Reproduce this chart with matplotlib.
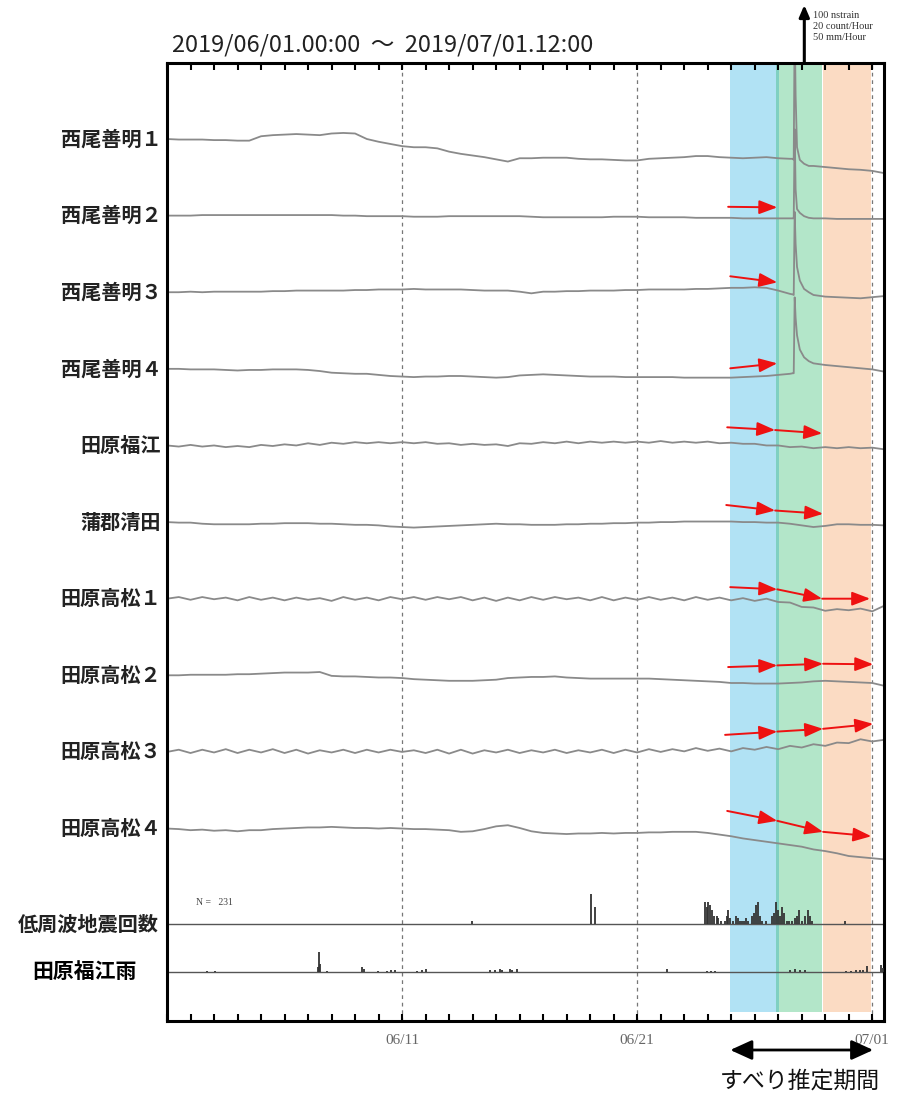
import numpy as np
import matplotlib
matplotlib.use("Agg")
import matplotlib.pyplot as plt
from matplotlib.patches import FancyArrowPatch
from matplotlib.ticker import MultipleLocator

plt.rcParams['font.family'] = ['Noto Sans CJK JP', 'DejaVu Sans']

# ---------------- data ----------------
TITLE = "2019/06/01.00:00  ～  2019/07/01.12:00"
STATIONS = ["西尾善明１", "西尾善明２", "西尾善明３", "西尾善明４", "田原福江",
            "蒲郡清田", "田原高松１", "田原高松２", "田原高松３", "田原高松４"]
LFE_LABEL = "低周波地震回数"
RAIN_LABEL = "田原福江雨"
TICK_DAYS = [10, 20, 30]
TICK_LABELS = ["06/11", "06/21", "07/01"]
SCALE_TEXT = "100 nstrain\n20 count/Hour\n50 mm/Hour"
N_TEXT = "N =   231"
SLIP_TEXT = "すべり推定期間"

# strain (nstrain, relative to start) every 0.5 day from 06/01 00:00
DAYS = np.arange(0, 30.51, 0.5)
T1 = [0, -1, -1, -1, -2, -2, -3, -3, 5, 7, 8, 9, 8, 7, 10, 11, 10, 0, -5, -9,
      -13, -15, -15, -17, -23, -27, -30, -33, -37, -41, -35, -35, -34, -34, -34, -36, -37, -37, -38, -39,
      -39, -36, -35, -34, -33, -31, -31, -33, -34, -35, -34, -33, -35, -36, -44, -49, -51, -53, -55, -56,
      -58, -62]
T2 = [0, 0, 0, 1, 1, 1, 1, 1, 1, 1, 1, 1, 1, 1, 1, 0, 0, -1, -1, -1, -1,
      -2, -2, -2, -1, -1, -1, -1, -1, -1, -1, -2, -3, -3, -3, -3, -3, -3, -2, -2, -2,
      -3, -3, -3, -3, -4, -4, -4, -4, -5, -5, -5, -5, -5,
      -5, -5, -5, -6, -6, -6, -6, -6]
T3 = [0, 0, 1, 0, 1, 1, 1, 1, 1, 2, 2, 3, 3, 3, 3, 3, 4, 4, 5, 5, 5,
      6, 5, 5, 5, 5, 4, 3, 3, 3, 1, -2, 1, 1, 2, 2, 3, 3, 3, 4, 4,
      5, 5, 5, 5, 6, 6, 7, 8, 8, 9, 8, 3, -3,
      -5, -5, -8, -9, -10, -11, -9, -7]
T4 = [0, 0, -1, -1, -1, -2, -3, -2, -2, -1, -1, -1, -2, -4, -7, -8, -9, -9, -11, -13, -14,
      -15, -14, -14, -13, -13, -14, -15, -16, -15, -12, -11, -10, -11, -12, -13, -14, -14, -14, -15, -15,
      -15, -15, -15, -16, -16, -16, -16, -16, -15, -14, -13, -11, -9,
      15, 10, 7, 5, 3, 1, -1, -5]
T5 = [0, -2, 1, -2, 0, -3, -1, -3, 1, -1, 2, 0, 4, 1, 5, 3, 6, 4, 6, 4,
      6, 4, 6, 3, 4, 1, 3, 1, 2, -1, 4, 3, 6, 4, 7, 4, 7, 5, 7, 5,
      7, 5, 8, 5, 7, 5, 7, 4, 5, 3, 3, 0, 0, -3, -2, -5, -3, -5, -3, -5,
      -4, -7]
T6 = [0, -1, -1, -3, -4, -4, -4, -4, -3, -3, -2, -2, -2, -3, -3, -4, -5, -5, -6, -8,
      -9, -10, -9, -8, -7, -6, -5, -4, -3, -4, -4, -5, -5, -5, -4, -4, -3, -3, -2, -2,
      -1, -1, 0, 0, 1, 1, 1, 1, 1, 0, 0, -1, -1, -3, -6, -9, -7, -4, -4, -5,
      -5, -6]
T7 = [0, 3, -2, 3, -1, 2, -3, 3, -2, 2, -3, 2, -2, 1, -4, 3, -2, 2, -3, 3,
      -1, 3, -2, 3, -1, 3, -3, 2, -4, 2, -3, 3, -2, 3, -1, 2, -3, 3, -3, 2,
      -2, 3, -2, 2, -3, 3, -2, 2, -3, 1, -4, 0, -6, -7, -15, -16, -22, -19, -21, -18,
      -23, -13]
T8 = [0, 0, 1, 1, 1, 1, 2, 2, 3, 4, 5, 5, 5, 6, -1, -2, -2, -3, -4, -4,
      -5, -7, -8, -9, -10, -10, -10, -9, -8, -5, -4, -3, -3, -2, -4, -5, -6, -6, -6, -6,
      -6, -6, -7, -8, -9, -10, -11, -12, -14, -14, -15, -15, -15, -14, -13, -11, -10, -11, -12, -13,
      -14, -19]
T9 = [0, 4, -2, 4, -1, 5, -2, 4, -1, 5, -2, 4, -3, 3, -1, 4, -2, 4, -1, 4,
      0, 3, -2, 4, -3, 4, -3, 3, -1, 4, -2, 3, -1, 4, -2, 3, -1, 4, -2, 4,
      -1, 5, 0, 5, 1, 7, 2, 6, 1, 7, 4, 9, 5, 11, 8, 14, 11, 17, 16, 23,
      19, 22]
T10 = [0, -1, -3, -2, -4, -3, -5, -3, -3, -1, 0, 1, 2, 2, 3, 2, 1, 1, 0, 1,
       0, -1, -1, -2, -3, -6, -5, -1, 4, 6, 1, -5, -8, -9, -10, -9, -9, -8, -9, -8,
       -8, -7, -7, -6, -6, -6, -8, -11, -14, -18, -21, -24, -27, -30, -33, -38, -41, -45, -50, -52,
       -54, -56]
TRACES = [T1, T2, T3, T4, T5, T6, T7, T8, T9, T10]

# step/spike around 06/27 (finer samples)
SPIKE_DAYS = [26.62, 26.66, 26.70, 26.74, 26.80, 26.92, 27.1, 27.3]
SPIKE_VALS = {0: [-36, -38, 216, 80, -15, -38, -45, -49],
              1: [-5, -5, 157, 48, 12, 5, -1, -4],
              2: [-4, -5, 146, 88, 46, 21, 6, 0],
              3: [-8, -8, 130, 93, 61, 35, 21, 14]}

# hourly low-frequency earthquake counts
LFE_DAYS = [12.96, 18.03, 18.20, 22.89, 22.98, 23.02, 23.11, 23.19, 23.28, 23.40,
            23.45, 23.55, 23.74, 23.83, 23.87, 23.96, 24.09, 24.21, 24.30, 24.38,
            24.47, 24.55, 24.64, 24.72, 24.89, 24.98, 25.06, 25.15, 25.23, 25.32,
            25.50, 25.74, 25.83, 25.91, 26.00, 26.09, 26.17, 26.26, 26.38, 26.47,
            26.60, 26.72, 26.81, 26.89, 27.00, 27.15, 27.28, 27.36, 27.45, 28.85]
LFE_COUNTS = [1, 11, 6, 8, 6, 8, 7, 5, 3, 3,
              2, 1, 1, 3, 5, 2, 1, 3, 2, 1,
              1, 1, 2, 1, 3, 4, 7, 8, 3, 1,
              1, 3, 4, 8, 5, 3, 6, 4, 1, 1,
              1, 2, 3, 5, 1, 3, 5, 3, 1, 1]

# hourly rain (mm/h)
RAIN_DAYS = [1.70, 2.04, 6.43, 6.47, 6.51, 6.81, 8.30, 8.36, 8.98, 9.36,
             9.53, 9.70, 10.64, 10.85, 11.02, 13.74, 13.96, 14.17, 14.26, 14.60,
             14.68, 14.89, 21.28, 22.98, 23.15, 23.32, 26.51, 26.72, 26.94, 27.15,
             28.89, 29.10, 29.32, 29.50, 29.62, 29.79, 30.38, 30.47]
RAIN_MM = [1, 1, 4.5, 18, 7, 1, 4.5, 3, 1, 1,
           1.5, 1.5, 1, 2, 3, 2, 2, 3, 2, 3,
           2, 3, 3, 1, 1, 1, 2, 3, 2, 2,
           1, 1, 1.5, 2, 1.5, 5.5, 6.5, 4]

# shaded periods (days)
SPAN_START = [23.96, 25.91, 26.04, 27.91]
SPAN_END = [25.91, 26.04, 27.87, 29.96]
SPAN_COLORS = ["#b1e2f4", "#7fd0c1", "#b3e6c9", "#fbdbc3"]

# red slip-direction arrows: (trace index, days, nstrain relative to trace)
ARROW_TRACE = [1, 2, 3, 4, 5, 6, 7, 8, 9]
ARROW_DAYS = [[23.87, 25.96], [23.96, 25.96], [23.96, 25.96],
              [23.83, 25.87, 27.87], [23.79, 25.87, 27.91],
              [23.96, 25.96, 27.87, 29.91], [23.87, 25.96, 27.91, 30.04],
              [23.74, 25.96, 27.91, 30.04], [23.83, 25.96, 27.91, 29.96]]
ARROW_VALS = [[16, 15], [29, 18], [1, 10],
              [33, 28, 22], [31, 21, 15],
              [21, 17, 0, 0], [15, 18, 21, 20],
              [31, 37, 42, 51], [32, 14, -6, -14]]

# ---------------- layout ----------------
W, H = 910, 1097
PX = 0.55            # pixels per nstrain (100 nstrain = 55 px)
GAP = 139.3          # nstrain between traces
TOP = 76 / PX
BOTTOM = -882 / PX
LFE_BASE = -785 / PX
RAIN_BASE = -833 / PX
COUNT_SCALE = 100 / 20   # 20 count/hour = 100 units
RAIN_SCALE = 100 / 50    # 50 mm/hour = 100 units

fig = plt.figure(figsize=(W / 100, H / 100), dpi=100)
ax = fig.add_axes([167 / W, 1 - 1021 / H, (884 - 167) / W, (1021 - 63) / H])
ax.set_xlim(0, 30.5)
ax.set_ylim(BOTTOM, TOP)

for s, e, c in zip(SPAN_START, SPAN_END, SPAN_COLORS):
    ax.axvspan(s, e, ymin=9 / 958, ymax=1, color=c, lw=0, zorder=0)

for d in TICK_DAYS:
    ax.axvline(d, color="#777777", lw=0.9, ls=(0, (3, 3)), zorder=1)

for i, vals in enumerate(TRACES):
    t = DAYS.copy()
    v = np.array(vals, float)
    if i in SPIKE_VALS:
        keep = (t < 26.6) | (t > 27.4)
        t = np.concatenate([t[keep], SPIKE_DAYS])
        v = np.concatenate([v[keep], SPIKE_VALS[i]])
        order = np.argsort(t)
        t, v = t[order], v[order]
    ax.plot(t, v - i * GAP, color="#8a8a8a", lw=1.3, zorder=2)
    ax.text(-0.008, -i * GAP, STATIONS[i], transform=ax.get_yaxis_transform(),
            ha="right", va="center", fontsize=14.5, color="#222222", fontweight="bold")

# LFE counts
ax.axhline(LFE_BASE, color="#555555", lw=1.0, zorder=2)
ax.vlines(LFE_DAYS, LFE_BASE, LFE_BASE + np.array(LFE_COUNTS) * COUNT_SCALE,
          color="#333333", lw=1.3, zorder=3)
ax.text(-0.011, LFE_BASE, LFE_LABEL, transform=ax.get_yaxis_transform(),
        ha="right", va="center", fontsize=14.5, color="#222222", fontweight="bold")
ax.text(1.23, LFE_BASE + 21.5 / PX, N_TEXT, family="Liberation Serif",
        fontsize=7, color="#444444", ha="left", va="center")

# rain
ax.axhline(RAIN_BASE, color="#555555", lw=1.0, zorder=2)
ax.vlines(RAIN_DAYS, RAIN_BASE, RAIN_BASE + np.array(RAIN_MM) * RAIN_SCALE,
          color="#333333", lw=1.3, zorder=3)
ax.text(-0.042, RAIN_BASE, RAIN_LABEL, transform=ax.get_yaxis_transform(),
        ha="right", va="center", fontsize=15, color="black", fontweight="bold")

# red arrows
for ti, ds, vs in zip(ARROW_TRACE, ARROW_DAYS, ARROW_VALS):
    base = -ti * GAP
    for k in range(len(ds) - 1):
        arr = FancyArrowPatch((ds[k], base + vs[k]), (ds[k + 1], base + vs[k + 1]),
                              arrowstyle="-|>,head_length=1.1,head_width=0.42",
                              mutation_scale=10, color="#ee1111", lw=1.4,
                              shrinkA=0, shrinkB=0, zorder=5)
        ax.add_patch(arr)

# axes styling
for sp in ax.spines.values():
    sp.set_linewidth(2.2)
    sp.set_color("black")
ax.set_yticks([])
ax.xaxis.set_major_locator(MultipleLocator(1))
ax.xaxis.set_major_formatter(plt.FuncFormatter(
    lambda x, p: TICK_LABELS[TICK_DAYS.index(int(round(x)))] if int(round(x)) in TICK_DAYS and abs(x - round(x)) < 1e-6 else ""))
ax.tick_params(axis="x", direction="in", top=True, length=5, width=1.5, pad=9,
               labelsize=11, labelcolor="#666666")
for lab in ax.get_xticklabels():
    lab.set_family("Liberation Serif")

# scale arrow (top right)
ax.annotate("", xy=(27.11, TOP + 58 / PX), xytext=(27.11, TOP), xycoords="data",
            annotation_clip=False,
            arrowprops=dict(arrowstyle="-|>,head_length=0.7,head_width=0.3", color="black",
                            lw=2.2, shrinkA=0, shrinkB=0, mutation_scale=10))
fig.text(813 / W, 1 - 11 / H, SCALE_TEXT, family="Liberation Serif", fontsize=7.5,
         color="#333333", ha="left", va="top", linespacing=1.3)

# title
fig.text(172 / W, 1 - 45 / H, TITLE, fontsize=17, color="#222222", ha="left", va="center")

# slip period double arrow and text
ax.annotate("", xy=(23.96, BOTTOM - 29 / PX), xytext=(30.04, BOTTOM - 29 / PX), xycoords="data",
            annotation_clip=False,
            arrowprops=dict(arrowstyle="<|-|>,head_length=1.1,head_width=0.5", color="black",
                            lw=2.0, shrinkA=0, shrinkB=0, mutation_scale=12))
ax.text(26.94, BOTTOM - 60 / PX, SLIP_TEXT, fontsize=16.5, color="#111111",
        ha="center", va="center", clip_on=False)

fig.savefig("out.png", dpi=100)
